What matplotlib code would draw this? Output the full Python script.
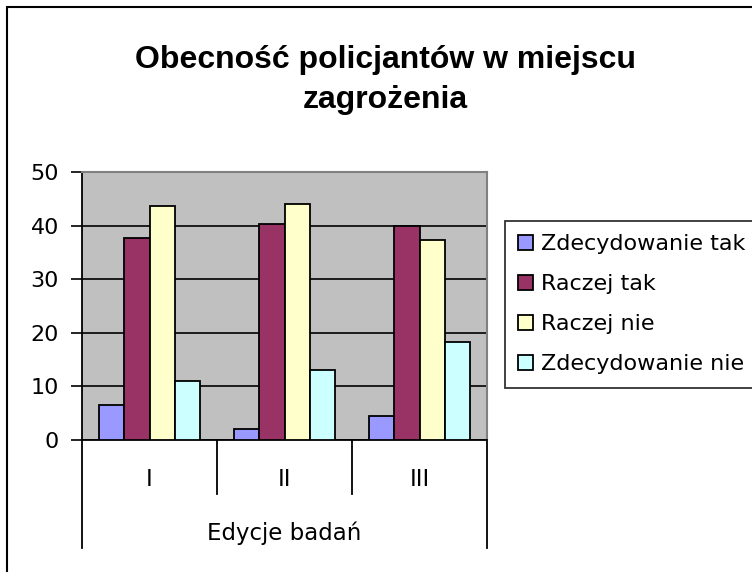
import numpy as np
import matplotlib
matplotlib.use("Agg")
import matplotlib.pyplot as plt
from matplotlib.patches import Rectangle
from matplotlib.lines import Line2D

plt.rcParams['font.family'] = ['DejaVu Sans']

title = "Obecność policjantów w miejscu\nzagrożenia"
categories = ["I", "II", "III"]
x_title = "Edycje badań"
series_names = ["Zdecydowanie tak", "Raczej tak", "Raczej nie", "Zdecydowanie nie"]
zdecydowanie_tak = [6.6, 2.1, 4.4]
raczej_tak = [37.6, 40.3, 39.9]
raczej_nie = [43.7, 44.0, 37.3]
zdecydowanie_nie = [11.1, 13.0, 18.2]
colors = ["#9999FF", "#993366", "#FFFFCC", "#CCFFFF"]

W, H = 752, 572
fig = plt.figure(figsize=(W / 100, H / 100), dpi=100)

# outer chart frame (left and top edges visible)
fig.patches.append(Rectangle((7 / W, -0.1), 2.0, (H - 7) / H + 0.1, transform=fig.transFigure,
                             fill=False, edgecolor="black", linewidth=1.5))

ax = fig.add_axes([82 / W, 1 - 440 / H, (487 - 82) / W, (440 - 172) / H])
ax.set_facecolor("#C0C0C0")

x = np.arange(len(categories))
bw = 0.186
data = [zdecydowanie_tak, raczej_tak, raczej_nie, zdecydowanie_nie]
for i, (vals, c, name) in enumerate(zip(data, colors, series_names)):
    ax.bar(x + (i - 1.5) * bw, vals, bw, color=c, edgecolor="black", linewidth=1.3,
           label=name, zorder=3)

ax.set_xlim(-0.5, 2.5)
ax.set_ylim(0, 50)
ax.set_yticks(range(0, 51, 10))
ax.yaxis.grid(True, color="black", linewidth=1.2, zorder=1)
ax.set_axisbelow(True)
ax.tick_params(axis="y", direction="out", length=8, width=1.2, labelsize=16, pad=8.5)
ax.set_xticks([])

for s in ["top", "right"]:
    ax.spines[s].set_color("#808080")
    ax.spines[s].set_linewidth(1.5)
ax.spines["left"].set_linewidth(1.3)
ax.spines["bottom"].set_linewidth(1.3)

# category axis with divider lines and group label
trans = ax.get_xaxis_transform()
dy_inner = (494 - 440) / (440 - 172)
dy_outer = (548 - 440) / (440 - 172)
for b in np.arange(-0.5, len(categories), 1.0):
    depth = dy_outer if b in (-0.5, len(categories) - 0.5) else dy_inner
    ax.add_line(Line2D([b, b], [0, -depth], transform=trans, color="black",
                       linewidth=1.3, clip_on=False))
for xi, lab in zip(x, categories):
    ax.text(xi, -(479 - 440) / (440 - 172), lab, transform=trans, ha="center", va="center",
            fontsize=16.5)
ax.text(1.0, -(533 - 440) / (440 - 172), x_title, transform=trans, ha="center", va="center",
        fontsize=16.5)

fig.text(385 / W, 1 - 80 / H, title, ha="center", va="center", fontsize=23,
         fontweight="bold", family="Liberation Sans", linespacing=1.45)

leg = fig.legend(loc="upper left", bbox_to_anchor=(505 / W, 1 - 221 / H), frameon=True,
                 fancybox=False, edgecolor="black", fontsize=16, handlelength=0.65,
                 handleheight=0.65, handletextpad=0.35, labelspacing=0.9, borderpad=0.6,
                 borderaxespad=0)
leg.get_frame().set_linewidth(1.3)

fig.savefig("out.png", dpi=100)
